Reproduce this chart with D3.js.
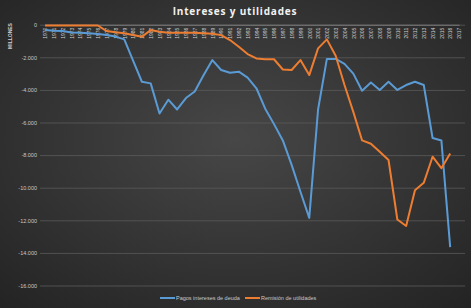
<!DOCTYPE html>
<html>
<head>
<meta charset="utf-8">
<script src="https://cdn.jsdelivr.net/npm/d3@7"></script>
<style>
  html, body { margin: 0; padding: 0; background: #2b2b2b; }
  svg { display: block; }
</style>
</head>
<body>
<div id="container"></div>
<script>
const years = [1970, 1971, 1972, 1973, 1974, 1975, 1976, 1977, 1978, 1979,
               1980, 1981, 1982, 1983, 1984, 1985, 1986, 1987, 1988, 1989,
               1990, 1991, 1992, 1993, 1994, 1995, 1996, 1997, 1998, 1999,
               2000, 2001, 2002, 2003, 2004, 2005, 2006, 2007, 2008, 2009,
               2010, 2011, 2012, 2013, 2014, 2015, 2016, 2017];

// Pagos intereses de deuda (millones)
const intereses = [-320, -370, -390, -480, -490, -530, -570, -630, -730, -900,
                   -2200, -3500, -3600, -5450, -4600, -5200, -4500, -4100, -3100, -2170,
                   -2780, -2950, -2880, -3250, -3900, -5150, -6100, -7100, -8600, -10250,
                   -11850, -5200, -2100, -2100, -2400, -3000, -4050, -3550, -4000, -3500,
                   -4000, -3700, -3500, -3700, -6950, -7100, -13650, null];

// Remisión de utilidades (millones)
const utilidades = [-50, -50, -50, -50, -50, -50, -50, -390, -470, -530,
                    -630, -740, -330, -430, -490, -490, -490, -500, -520, -560,
                    -640, -940, -1350, -1800, -2070, -2120, -2120, -2750, -2780, -2170,
                    -3090, -1450, -900, -1900, -3700, -5350, -7100, -7300, -7800, -8300,
                    -11950, -12350, -10150, -9700, -8100, -8800, -7900, null];

const yTicks = [0, -2000, -4000, -6000, -8000, -10000, -12000, -14000, -16000];

const seriesNames = ["Pagos intereses de deuda", "Remisión de utilidades"];
const seriesColors = ["#5b9bd5", "#ed7d31"];

const WIDTH = 471,
      HEIGHT = 308;

const margin = { top: 25, bottom: 23, left: 45, right: 12 };

const svg = d3.select('#container').append('svg')
    .attr("width", WIDTH).attr("height", HEIGHT);

// background gradient
const defs = svg.append("defs");
const grad = defs.append("radialGradient")
    .attr("id", "bg").attr("cx", "50%").attr("cy", "45%").attr("r", "75%");
grad.append("stop").attr("offset", "0%").attr("stop-color", "#474747");
grad.append("stop").attr("offset", "100%").attr("stop-color", "#232323");
svg.append("rect").attr("width", WIDTH).attr("height", HEIGHT).attr("fill", "url(#bg)");

const xScale = d3.scalePoint()
    .domain(years)
    .range([45, 459]);

const yScale = d3.scaleLinear()
    .domain([0, -16000])
    .range([24.7, 285.5]);

const es = d3.formatLocale({ decimal: ",", thousands: ".", grouping: [3], currency: ["", ""], minus: "-" });
const fmt = es.format(",");

// gridlines + y labels
const yAxis = d3.axisLeft(yScale)
    .tickValues(yTicks)
    .tickFormat(fmt)
    .tickSize(-(465 - 40))
    .tickPadding(3);

const gy = svg.append("g")
    .attr("transform", "translate(40,0)")
    .call(yAxis);
gy.select(".domain").remove();
gy.selectAll("line").attr("stroke", "#5a5a5a").attr("stroke-width", 0.8);
gy.selectAll("text")
    .attr("fill", "#c8c8c8")
    .style("font-family", "Liberation Sans, Arial, sans-serif")
    .style("font-size", "5.5px");

// category axis at zero
const xAxis = d3.axisBottom(xScale).tickSize(0).tickPadding(0);
const gx = svg.append("g")
    .attr("transform", `translate(0,${yScale(0)})`)
    .call(xAxis);
gx.select(".domain").attr("stroke", "#8a8a8a").attr("stroke-width", 0.8);
gx.selectAll("text")
    .attr("transform", "rotate(-90)")
    .attr("x", -3)
    .attr("y", 0)
    .attr("dy", "0.35em")
    .style("text-anchor", "end")
    .attr("fill", "#d0d0d0")
    .style("font-family", "Liberation Sans, Arial, sans-serif")
    .style("font-size", "5px");

// lines
const line = d3.line()
    .defined((d) => d.v !== null)
    .x((d) => xScale(d.year))
    .y((d) => yScale(d.v));

[intereses, utilidades].forEach((vals, i) => {
    svg.append("path")
        .datum(years.map((y, j) => ({ year: y, v: vals[j] })))
        .attr("fill", "none")
        .attr("stroke", seriesColors[i])
        .attr("stroke-width", 2)
        .attr("stroke-linejoin", "round")
        .attr("d", line);
});

// title
svg.append("text")
    .attr("x", 235)
    .attr("y", 15)
    .style("text-anchor", "middle")
    .style("font-family", "Open Sans, DejaVu Sans, sans-serif")
    .style("font-weight", "bold")
    .style("font-size", "10px")
    .style("letter-spacing", "0.8px")
    .attr("fill", "#f2f2f2")
    .text("Intereses y utilidades");

// y axis title
svg.append("text")
    .attr("transform", "translate(12,36) rotate(-90)")
    .style("text-anchor", "middle")
    .style("font-family", "Liberation Sans, Arial, sans-serif")
    .style("font-weight", "bold")
    .style("font-size", "5px")
    .attr("fill", "#d0d0d0")
    .text("MILLONES");

// legend
const legendX = [160, 245];
const legend = svg.append("g");
seriesNames.forEach((name, i) => {
    legend.append("line")
        .attr("x1", legendX[i]).attr("x2", legendX[i] + 15)
        .attr("y1", 298).attr("y2", 298)
        .attr("stroke", seriesColors[i]).attr("stroke-width", 2);
    legend.append("text")
        .attr("x", legendX[i] + 16)
        .attr("y", 298)
        .attr("dy", "0.35em")
        .style("font-family", "Liberation Sans, Arial, sans-serif")
        .style("font-size", "5.5px")
        .attr("fill", "#c8c8c8")
        .text(name);
});
</script>
</body>
</html>
